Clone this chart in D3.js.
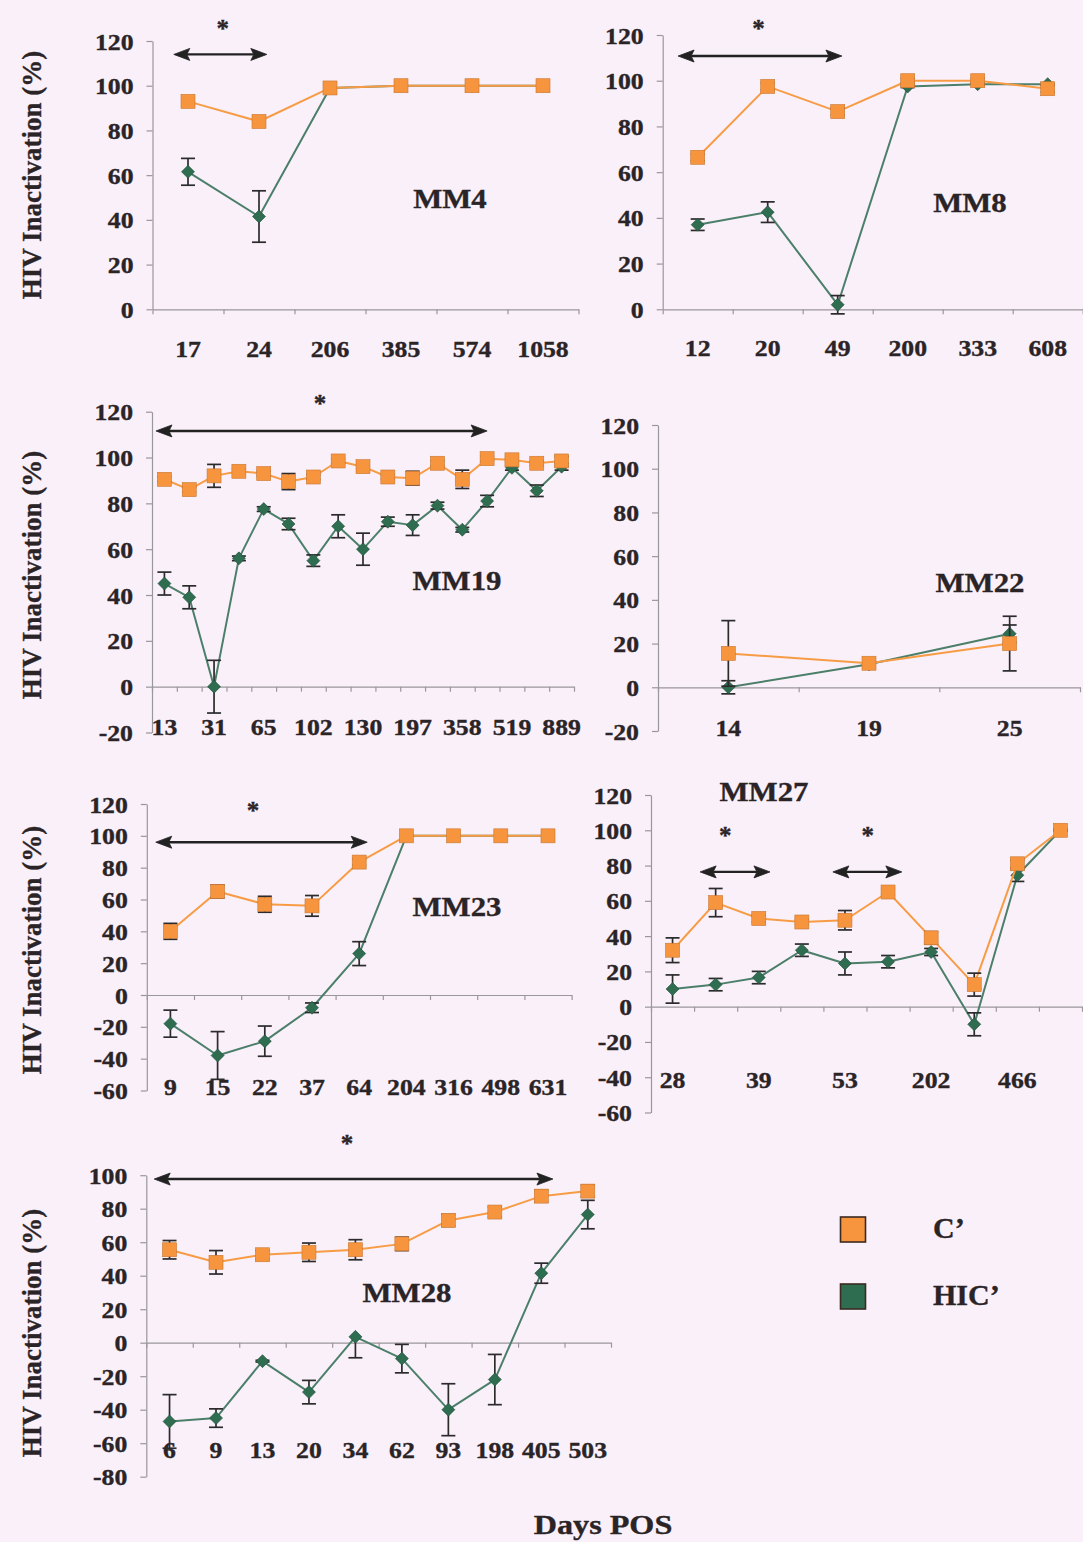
<!DOCTYPE html>
<html>
<head>
<meta charset="utf-8">
<script src="https://cdn.jsdelivr.net/npm/d3@7"></script>
<style>
  html, body { margin: 0; padding: 0; background: #FAF0FA; }
  svg { display: block; }
</style>
</head>
<body>
<svg id="chart" width="1083" height="1542"></svg>
<script>
// HIV inactivation (%) by complement (C’) and heat-inactivated complement (HIC’), per animal, by day post-onset

const seriesNames = ["C’", "HIC’"];

const mm4Days   = ["17", "24", "206", "385", "574", "1058"];
const mm4C      = [93, 84, 99, 100, 100, 100];
const mm4CErr   = [1.5, 2.5, 0, 0, 0, 0];
const mm4HIC    = [61.5, 41.5, 99, 100, 100, 100];
const mm4HICErr = [6, 11.5, 0, 0, 0, 0];

const mm8Days   = ["12", "20", "49", "200", "333", "608"];
const mm8C      = [66.5, 97.5, 86.5, 100, 100, 96.5];
const mm8CErr   = [1.5, 1.5, 1.5, 1, 1, 1.5];
const mm8HIC    = [37, 42.5, 2, 97.5, 98.5, 98.5];
const mm8HICErr = [2.5, 4.5, 4, 0.5, 0.5, 0.5];

const mm19Days   = ["13", "", "31", "", "65", "", "102", "", "130", "", "197", "", "358", "", "519", "", "889"];
const mm19C      = [90.5, 86, 92, 94, 93, 89.5, 91.5, 98.5, 96, 91.5, 91, 97.5, 90.5, 99.5, 99, 97.5, 98.5];
const mm19CErr   = [1, 1, 5, 1, 1, 3.5, 1, 1, 1, 1, 3, 1, 4, 1, 1, 1, 2];
const mm19HIC    = [45, 39, 0, 56, 77.5, 71, 55, 70, 60, 72, 70.5, 79, 68.5, 81, 95.5, 85.5, 96];
const mm19HICErr = [5, 5, 11.5, 1, 1, 2.5, 2.5, 5, 7, 2, 4.5, 1.5, 1, 2.5, 1, 2.5, 1.5];

const mm22Days   = ["14", "19", "25"];
const mm22C      = [15.5, 11, 20];
const mm22CErr   = [15, 1.5, 12.5];
const mm22HIC    = [0, 10.5, 24.5];
const mm22HICErr = [3, 2, 4];

const mm23Days   = ["9", "15", "22", "37", "64", "204", "316", "498", "631"];
const mm23C      = [40, 65, 57, 56, 83.5, 100, 100, 100, 100];
const mm23CErr   = [5, 4, 5, 6.5, 2, 0, 0, 0, 0];
const mm23HIC    = [-18, -38, -29, -8, 26, 100, 100, 100, 100];
const mm23HICErr = [8.5, 15, 9.5, 3, 7.5, 0, 0, 0, 0];

const mm27Days   = ["28", "", "39", "", "53", "", "202", "", "466", ""];
const mm27C      = [32, 59, 50, 48, 49, 65, 39, 12.5, 81, 100];
const mm27CErr   = [7, 8, 2, 1.5, 5.5, 2, 3.5, 6.5, 2, 0.5];
const mm27HIC    = [10, 12.5, 16.5, 32, 24.5, 25.5, 31, -10, 74.5, 100];
const mm27HICErr = [8, 3.5, 3.5, 3.5, 6.5, 3.5, 2, 6.5, 3.5, 0.5];

const mm28Days   = ["6", "9", "13", "20", "34", "62", "93", "198", "405", "503"];
const mm28C      = [55.5, 48, 52.5, 54, 55.5, 59, 73, 78, 87.5, 90.5];
const mm28CErr   = [5.5, 7, 2.5, 5.5, 6, 4, 3.5, 3, 3.5, 3.5];
const mm28HIC    = [-47, -45, -11, -29.5, 3.5, -9.5, -40, -22, 41.5, 76.5];
const mm28HICErr = [16, 5.5, 0.5, 7, [12.5, 0], 8.5, 15.5, 15, 6, 8.5];

// ---- styling ----
const FONT = "'Liberation Serif', 'Times New Roman', Times, serif";
const INK = "#2a2427";
const AXIS = "#9a979a";
const ORANGE = "#F7953F", ORANGE_LINE = "#F79C45", ORANGE_EDGE = "#c9762f";
const GREEN = "#2F6D50", GREEN_LINE = "#4B7F69", GREEN_EDGE = "#1f4b36";
const ERR = "#2b2b2b";

// ---- panel layout (plot frames, label rows, annotations in data units) ----
const panels = [
  { title: "MM4", days: mm4Days, c: mm4C, cErr: mm4CErr, hic: mm4HIC, hicErr: mm4HICErr,
    yDomain: [0, 120], yRange: [309.3, 41], xRange: [152.5, 578.5], labelY: 349,
    titleAt: [450, 198], yTitle: 175,
    arrows: [{ from: 0.30, to: 1.61, at: 114, star: [0.99, 127] }] },
  { title: "MM8", days: mm8Days, c: mm8C, cErr: mm8CErr, hic: mm8HIC, hicErr: mm8HICErr,
    yDomain: [0, 120], yRange: [309.3, 35], xRange: [662.7, 1082.7], labelY: 348,
    titleAt: [970, 202], yTitle: null,
    arrows: [{ from: 0.22, to: 2.56, at: 110.8, star: [1.37, 124.4] }] },
  { title: "MM19", days: mm19Days, c: mm19C, cErr: mm19CErr, hic: mm19HIC, hicErr: mm19HICErr,
    yDomain: [-20, 120], yRange: [732.5, 411.7], xRange: [152, 574], labelY: 727,
    titleAt: [457, 580], yTitle: 575,
    arrows: [{ from: 0.16, to: 13.5, at: 111.6, star: [6.77, 125] }] },
  { title: "MM22", days: mm22Days, c: mm22C, cErr: mm22CErr, hic: mm22HIC, hicErr: mm22HICErr,
    yDomain: [-20, 120], yRange: [731, 425], xRange: [658, 1080], labelY: 728,
    titleAt: [980, 582], yTitle: null, arrows: [] },
  { title: "MM23", days: mm23Days, c: mm23C, cErr: mm23CErr, hic: mm23HIC, hicErr: mm23HICErr,
    yDomain: [-60, 120], yRange: [1090.5, 804], xRange: [146.8, 571.6], labelY: 1087,
    titleAt: [457, 906], yTitle: 950,
    arrows: [{ from: 0.19, to: 4.67, at: 96, star: [2.25, 118] }] },
  { title: "MM27", days: mm27Days, c: mm27C, cErr: mm27CErr, hic: mm27HIC, hicErr: mm27HICErr,
    yDomain: [-60, 120], yRange: [1112.5, 795], xRange: [651, 1082], labelY: 1080,
    titleAt: [764, 791], yTitle: null,
    arrows: [{ from: 1.14, to: 2.76, at: 76.4, star: [1.72, 99] },
             { from: 4.22, to: 5.82, at: 76.4, star: [5.03, 99] }] },
  { title: "MM28", days: mm28Days, c: mm28C, cErr: mm28CErr, hic: mm28HIC, hicErr: mm28HICErr,
    yDomain: [-80, 100], yRange: [1476.7, 1175.2], xRange: [146.3, 611], labelY: 1450,
    titleAt: [407, 1292], yTitle: 1333,
    arrows: [{ from: 0.17, to: 8.75, at: 97.7, star: [4.32, 121] }] }
];

const svg = d3.select("#chart");
svg.append("rect").attr("width", 1083).attr("height", 1542).attr("fill", "#FAF0FA");

function boldText(g, str, x, y, size, sx, anchor = "middle") {
  return g.append("text")
    .attr("transform", `translate(${x},${y}) scale(${sx},1)`)
    .attr("text-anchor", anchor)
    .attr("font-family", FONT)
    .attr("font-weight", "bold")
    .attr("font-size", size)
    .attr("fill", INK)
    .attr("stroke", INK).attr("stroke-width", 0.35)
    .text(str);
}

function drawSeries(g, values, errs, cx, y, lineColor, kind) {
  // connecting line
  g.append("path")
    .datum(values)
    .attr("fill", "none")
    .attr("stroke", lineColor)
    .attr("stroke-width", 2)
    .attr("stroke-linejoin", "round")
    .attr("d", d3.line().x((d, i) => cx(i)).y(d => y(d)));

  // error bars
  const capHalf = 7;
  values.forEach((v, i) => {
    const e = errs[i];
    const [lo, hi] = Array.isArray(e) ? e : [e, e];
    if (!lo && !hi) return;
    const x = cx(i);
    const eg = g.append("g").attr("stroke", ERR).attr("stroke-width", 1.7).attr("fill", "none");
    eg.append("line").attr("x1", x).attr("x2", x).attr("y1", y(v - lo)).attr("y2", y(v + hi));
    if (lo) eg.append("line").attr("x1", x - capHalf).attr("x2", x + capHalf).attr("y1", y(v - lo)).attr("y2", y(v - lo));
    if (hi) eg.append("line").attr("x1", x - capHalf).attr("x2", x + capHalf).attr("y1", y(v + hi)).attr("y2", y(v + hi));
  });

  // markers
  if (kind === "square") {
    g.selectAll(null).data(values).join("rect")
      .attr("x", (d, i) => cx(i) - 7)
      .attr("y", d => y(d) - 7)
      .attr("width", 14).attr("height", 14)
      .attr("fill", ORANGE)
      .attr("stroke", ORANGE_EDGE).attr("stroke-width", 0.6);
  } else {
    g.selectAll(null).data(values).join("path")
      .attr("d", (d, i) => {
        const x = cx(i), yy = y(d), r = 6.5;
        return `M${x},${yy - r}L${x + r},${yy}L${x},${yy + r}L${x - r},${yy}Z`;
      })
      .attr("fill", GREEN)
      .attr("stroke", GREEN_EDGE).attr("stroke-width", 0.6);
  }
}

function drawArrow(g, x1, x2, yy) {
  const head = 16, half = 6;
  const ag = g.append("g").attr("fill", "#222").attr("stroke", "#222");
  ag.append("line").attr("x1", x1 + head - 3).attr("x2", x2 - head + 3)
    .attr("y1", yy).attr("y2", yy).attr("stroke-width", 2.4);
  ag.append("path").attr("stroke-width", 0.8)
    .attr("d", `M${x1},${yy}L${x1 + head},${yy - half}L${x1 + head - 3},${yy}L${x1 + head},${yy + half}Z`);
  ag.append("path").attr("stroke-width", 0.8)
    .attr("d", `M${x2},${yy}L${x2 - head},${yy - half}L${x2 - head + 3},${yy}L${x2 - head},${yy + half}Z`);
}

function drawPanel(p) {
  const g = svg.append("g");
  const n = p.days.length;
  const x = d3.scaleBand().domain(d3.range(n)).range(p.xRange).padding(0);
  const cx = i => x(i) + x.bandwidth() / 2;
  const xPos = f => p.xRange[0] + f * x.bandwidth();
  const xEdge = d3.scaleLinear().domain([0, n]).range(p.xRange);
  const y = d3.scaleLinear().domain(p.yDomain).range(p.yRange);

  // value axis
  const yAxis = d3.axisLeft(y)
    .tickValues(d3.range(p.yDomain[0], p.yDomain[1] + 1, 20))
    .tickSizeInner(6).tickSizeOuter(0)
    .tickFormat(d => String(d));
  const ya = g.append("g").attr("transform", `translate(${p.xRange[0]},0)`).call(yAxis);
  ya.select(".domain").attr("stroke", AXIS).attr("stroke-width", 1.2);
  ya.selectAll(".tick line").attr("stroke", AXIS).attr("stroke-width", 1.2);
  ya.selectAll(".tick text")
    .attr("x", 0).attr("dy", "0.35em")
    .attr("transform", "translate(-19,0) scale(1.12,1)")
    .attr("font-family", FONT).attr("font-weight", "bold")
    .attr("font-size", 23).attr("fill", INK)
    .attr("stroke", INK).attr("stroke-width", 0.35);

  // category axis line at zero with tick marks at category boundaries
  const xAxis = d3.axisBottom(xEdge)
    .tickValues(d3.range(n + 1))
    .tickSizeInner(5).tickSizeOuter(0)
    .tickFormat("");
  const xa = g.append("g").attr("transform", `translate(0,${y(0)})`).call(xAxis);
  xa.select(".domain").attr("stroke", AXIS).attr("stroke-width", 1.2);
  xa.selectAll(".tick line").attr("stroke", AXIS).attr("stroke-width", 1.2);

  // category labels along the low edge
  p.days.forEach((d, i) => {
    if (d) boldText(g, d, cx(i), p.labelY, 23, 1.12).attr("dy", "0.35em");
  });

  // series: HIC’ underneath, C’ on top
  drawSeries(g, p.hic, p.hicErr, cx, y, GREEN_LINE, "diamond");
  drawSeries(g, p.c, p.cErr, cx, y, ORANGE_LINE, "square");

  // significance spans
  p.arrows.forEach(a => {
    drawArrow(g, xPos(a.from), xPos(a.to), y(a.at));
    boldText(g, "*", xPos(a.star[0]), y(a.star[1]) + 12, 25, 1);
  });

  // animal id
  boldText(g, p.title, p.titleAt[0], p.titleAt[1] + 9.5, 28, 1.1);

  // value axis title
  if (p.yTitle !== null) {
    g.append("text")
      .attr("transform", `translate(41,${p.yTitle}) rotate(-90)`)
      .attr("text-anchor", "middle")
      .attr("font-family", FONT).attr("font-weight", "bold")
      .attr("font-size", 27).attr("fill", INK)
      .attr("stroke", INK).attr("stroke-width", 0.35)
      .text("HIV Inactivation (%)");
  }
}

panels.forEach(drawPanel);

// shared category axis title
boldText(svg, "Days POS", 603, 1534, 28, 1.15);

// legend
const legend = svg.append("g");
const legendColors = [ORANGE, GREEN];
seriesNames.forEach((name, i) => {
  const top = 1217 + i * 67;
  legend.append("rect")
    .attr("x", 840.5).attr("y", top).attr("width", 25).attr("height", 25)
    .attr("fill", legendColors[i])
    .attr("stroke", "#3b2a22").attr("stroke-width", 1.6);
  boldText(legend, name, 933, top + 21, 30, 1, "start");
});
</script>
</body>
</html>
